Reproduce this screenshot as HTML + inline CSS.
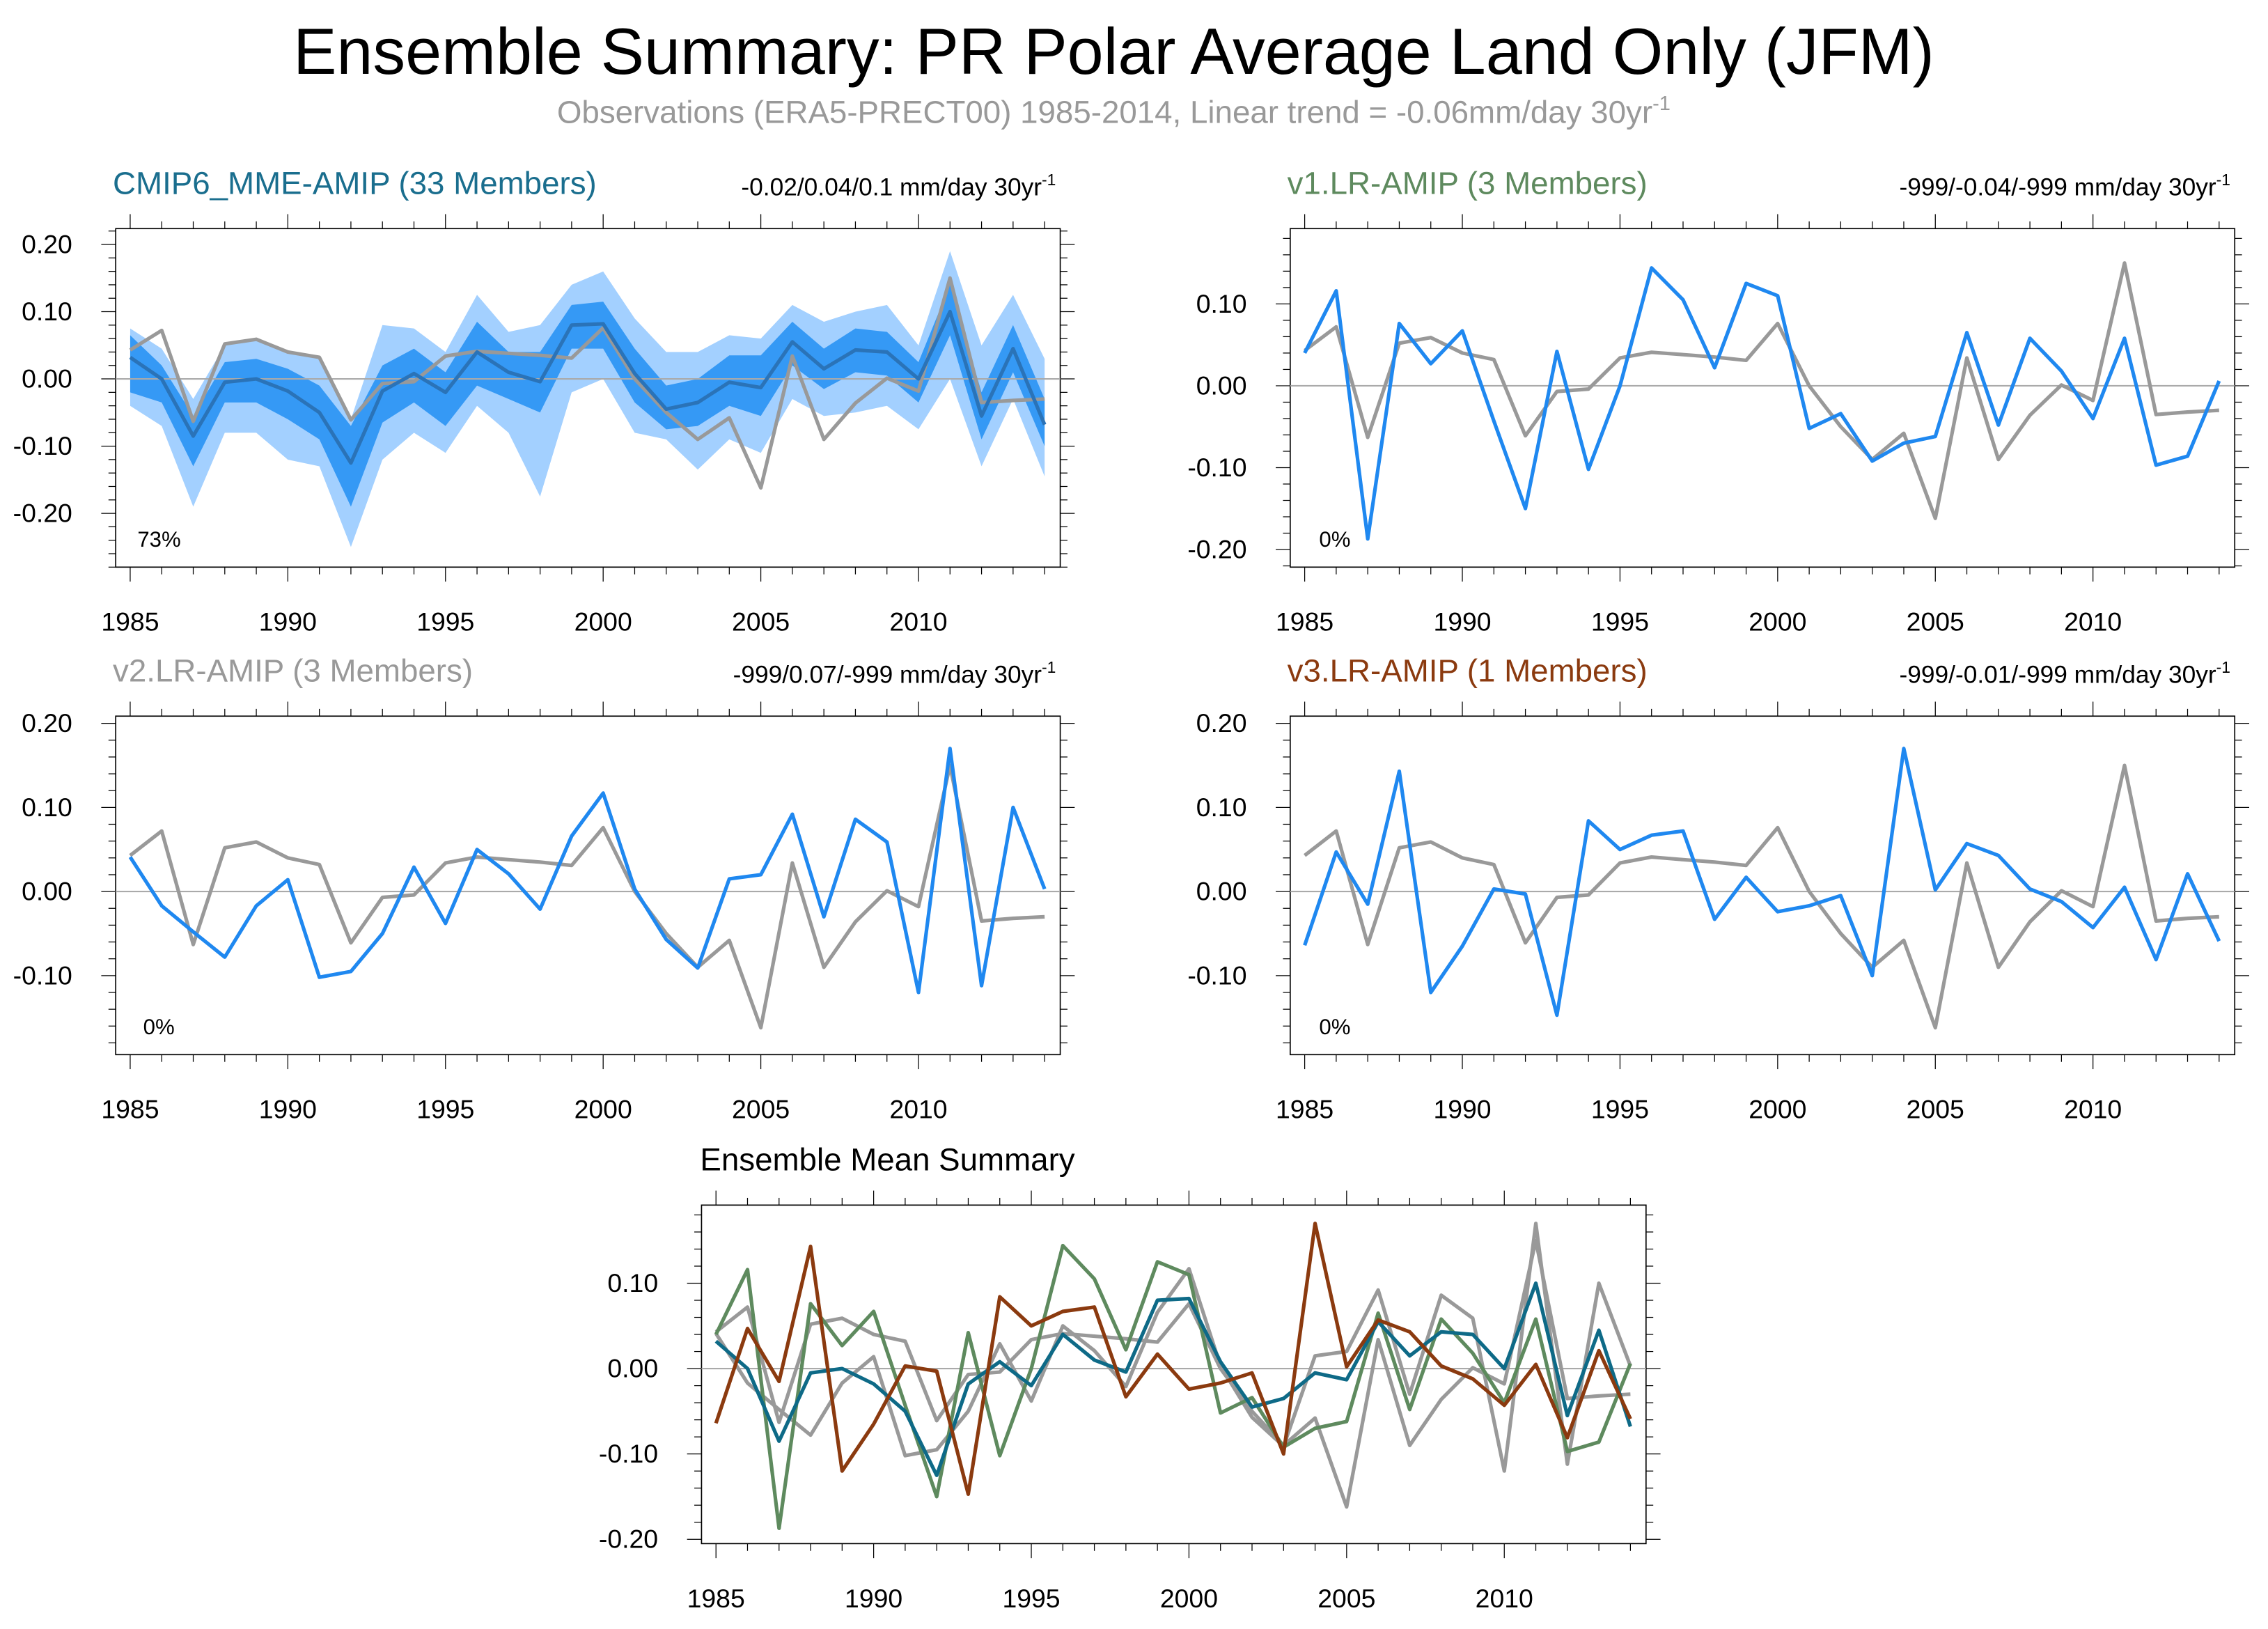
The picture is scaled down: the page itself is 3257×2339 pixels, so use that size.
<!DOCTYPE html>
<html><head><meta charset="utf-8">
<style>
html,body{margin:0;padding:0;background:#fff;}
svg{display:block;font-family:"Liberation Sans",sans-serif;}
</style></head>
<body>
<svg id="chart" width="3257" height="2339" viewBox="0 0 1568 1126" xmlns="http://www.w3.org/2000/svg">
<rect width="1568" height="1126" fill="#fff"/>
<text x="770" y="51" text-anchor="middle" font-size="45">Ensemble Summary: PR Polar Average Land Only (JFM)</text>
<text x="770" y="85" text-anchor="middle" font-size="22" fill="#999">Observations (ERA5-PRECT00) 1985-2014, Linear trend = -0.06mm/day 30yr<tspan dy="-9" font-size="14">-1</tspan></text>
<g id="plots"></g>
</svg>
<script>
const years = [1985,1986,1987,1988,1989,1990,1991,1992,1993,1994,1995,1996,1997,1998,1999,2000,2001,2002,2003,2004,2005,2006,2007,2008,2009,2010,2011,2012,2013,2014];
const obs = [0.043,0.072,-0.063,0.052,0.059,0.040,0.032,-0.061,-0.007,-0.004,0.034,0.041,0.038,0.035,0.031,0.076,0.0,-0.05,-0.09,-0.058,-0.162,0.034,-0.09,-0.036,0.001,-0.018,0.15,-0.035,-0.032,-0.03];
const mmeMean = [0.032,0.0,-0.085,-0.005,0.0,-0.018,-0.05,-0.125,-0.018,0.008,-0.02,0.04,0.01,-0.004,0.08,0.082,0.008,-0.045,-0.035,-0.005,-0.013,0.055,0.015,0.043,0.04,0.0,0.1,-0.055,0.045,-0.068];
const mmeDarkHi = [0.065,0.02,-0.055,0.025,0.03,0.015,-0.01,-0.07,0.02,0.045,0.01,0.085,0.04,0.04,0.11,0.115,0.045,-0.01,0.0,0.035,0.035,0.085,0.045,0.075,0.07,0.025,0.14,-0.02,0.08,-0.03];
const mmeDarkLo = [-0.02,-0.035,-0.13,-0.035,-0.035,-0.06,-0.09,-0.19,-0.065,-0.035,-0.07,-0.01,-0.03,-0.05,0.045,0.045,-0.035,-0.075,-0.07,-0.04,-0.055,0.02,-0.015,0.01,0.005,-0.035,0.065,-0.09,0.01,-0.1];
const mmeLightHi = [0.075,0.045,-0.03,0.05,0.06,0.04,0.03,-0.06,0.08,0.075,0.04,0.125,0.07,0.08,0.14,0.16,0.09,0.04,0.04,0.065,0.06,0.11,0.085,0.1,0.11,0.05,0.19,0.05,0.125,0.03];
const mmeLightLo = [-0.04,-0.07,-0.19,-0.08,-0.08,-0.12,-0.13,-0.25,-0.12,-0.08,-0.11,-0.04,-0.08,-0.175,-0.02,0.0,-0.08,-0.09,-0.135,-0.09,-0.11,-0.03,-0.055,-0.05,-0.04,-0.075,0.0,-0.13,-0.03,-0.145];
const v1 = [0.04,0.116,-0.187,0.076,0.027,0.067,-0.043,-0.15,0.042,-0.102,0.0,0.144,0.105,0.022,0.125,0.11,-0.052,-0.034,-0.092,-0.07,-0.062,0.065,-0.048,0.058,0.018,-0.04,0.058,-0.097,-0.086,0.006];
const v2 = [0.041,-0.017,-0.048,-0.078,-0.017,0.014,-0.102,-0.095,-0.05,0.029,-0.038,0.05,0.021,-0.021,0.066,0.117,0.003,-0.057,-0.091,0.015,0.02,0.092,-0.03,0.086,0.059,-0.12,0.17,-0.112,0.1,0.003];
const v3 = [-0.064,0.047,-0.015,0.143,-0.12,-0.065,0.003,-0.003,-0.147,0.084,0.05,0.067,0.072,-0.033,0.017,-0.024,-0.017,-0.005,-0.1,0.17,0.002,0.057,0.043,0.003,-0.012,-0.043,0.005,-0.081,0.021,-0.059];
const xTicks = [1985,1990,1995,2000,2005,2010];
const yTicksA = [0.2,0.1,0,-0.1,-0.2];
const yTicksB = [0.1,0,-0.1,-0.2];
const yTicksC = [0.2,0.1,0,-0.1];

const NS="http://www.w3.org/2000/svg";
const root=document.getElementById('plots');
function mk(tag,attrs,parent){const e=document.createElementNS(NS,tag);for(const k in attrs)e.setAttribute(k,attrs[k]);(parent||root).appendChild(e);return e;}
const BLUE="#1f88f0", OBS="#999999";

function panel(name,x0,y0,w,h,yTop,yBot,yticks){
  const g=mk('g',{});
  
  
  const sx=v=>x0+10+(v-1985)*21.8;
  const sy=v=>y0+(yTop-v)/(yTop-yBot)*h;
  const P={g,sx,sy,x0,y0,w,h};
  mk('rect',{x:x0,y:y0,width:w,height:h,fill:'#fff',stroke:'#000','stroke-width':0.8},g);
  for(let v=Math.ceil(yBot*50)/50; v<=yTop+1e-9; v+=0.02){
    const y=sy(v);const maj=Math.abs(Math.round(v*10)-v*10)<1e-6;
    const L=maj?10:5;
    mk('line',{x1:x0-L,x2:x0,y1:y,y2:y,stroke:'#000','stroke-width':0.6},g);
    mk('line',{x1:x0+w,x2:x0+w+L,y1:y,y2:y,stroke:'#000','stroke-width':0.6},g);
  }
  yticks.forEach(v=>{
    const t=mk('text',{x:x0-30,y:sy(v)+6,'text-anchor':'end','font-size':18},g);
    
    
    t.textContent=v.toFixed(2);
  });
  for(let yr=1985;yr<=2014;yr++){
    const x=sx(yr);const maj=yr%5===0;const L=maj?10:5;
    mk('line',{x1:x,x2:x,y1:y0+h,y2:y0+h+L,stroke:'#000','stroke-width':0.6},g);
    mk('line',{x1:x,x2:x,y1:y0-L,y2:y0,stroke:'#000','stroke-width':0.6},g);
  }
  xTicks.forEach(v=>{
    const t=mk('text',{x:sx(v),y:y0+h+44,'text-anchor':'middle','font-size':18},g);
    
    
    t.textContent=v;
  });
  mk('line',{x1:x0,x2:x0+w,y1:sy(0),y2:sy(0),stroke:'#aaa','stroke-width':1},g);
  return P;
}
function line(P,vals,color,name,wd){
  const d=vals.map((v,i)=>(i?'L':'M')+P.sx(years[i]).toFixed(1)+','+P.sy(v).toFixed(1)).join('');
  const p=mk('path',{d:d,fill:'none',stroke:color,'stroke-width':wd||2.5,'stroke-linejoin':'round'},P.g);
  
  
}
function band(P,hi,lo,color,name){
  let d=hi.map((v,i)=>(i?'L':'M')+P.sx(years[i]).toFixed(1)+','+P.sy(v).toFixed(1)).join('');
  for(let i=lo.length-1;i>=0;i--) d+='L'+P.sx(years[i]).toFixed(1)+','+P.sy(lo[i]).toFixed(1);
  const p=mk('path',{d:d+'Z',fill:color,stroke:'none'},P.g);
  
  
}
function label(P,txt,x,y,size,color,anchor,name,sup){
  const t=mk('text',{x:x,y:y,'font-size':size,fill:color,'text-anchor':anchor||'start'},P.g);
  
  
  t.textContent=txt;
  if(sup){const s=mk('tspan',{dy:-7,'font-size':11},t);s.textContent=sup;}
}

let P=panel('panel-cmip6-mme',80,158,653,234,0.2236,-0.28,yTicksA);
band(P,mmeLightHi,mmeLightLo,'#a3d0ff','band-light-range');
band(P,mmeDarkHi,mmeDarkLo,'#3599f5','band-dark-range');
P.g.appendChild(P.g.querySelector('line[stroke="#aaa"]'));
line(P,obs,OBS,'obs-line');
line(P,mmeMean,'#2a73b8','mme-mean-line');
label(P,'CMIP6_MME-AMIP (33 Members)',78,134,22,'#1a6e8e','start','panel-title');
label(P,'-0.02/0.04/0.1 mm/day 30yr',730,135,17,'#000','end','trend-label','-1');
label(P,'73%',95,378,15,'#000','start','percent-label');

P=panel('panel-v1',892,158,653,234,0.192,-0.2215,yTicksB);
line(P,obs,OBS,'obs-line');
line(P,v1,BLUE,'v1-line');
label(P,'v1.LR-AMIP (3 Members)',890,134,22,'#5e8a5e','start','panel-title');
label(P,'-999/-0.04/-999 mm/day 30yr',1542,135,17,'#000','end','trend-label','-1');
label(P,'0%',912,378,15,'#000','start','percent-label');

P=panel('panel-v2',80,495,653,234,0.2086,-0.194,yTicksC);
line(P,obs,OBS,'obs-line');
line(P,v2,BLUE,'v2-line');
label(P,'v2.LR-AMIP (3 Members)',78,471,22,'#999','start','panel-title');
label(P,'-999/0.07/-999 mm/day 30yr',730,472,17,'#000','end','trend-label','-1');
label(P,'0%',99,715,15,'#000','start','percent-label');

P=panel('panel-v3',892,495,653,234,0.2086,-0.194,yTicksC);
line(P,obs,OBS,'obs-line');
line(P,v3,BLUE,'v3-line');
label(P,'v3.LR-AMIP (1 Members)',890,471,22,'#8b3a0f','start','panel-title');
label(P,'-999/-0.01/-999 mm/day 30yr',1542,472,17,'#000','end','trend-label','-1');
label(P,'0%',912,715,15,'#000','start','percent-label');

P=panel('panel-ensemble-mean',485,833,653,234,0.1915,-0.205,yTicksB);
line(P,obs,OBS,'obs-line');
line(P,v2,'#999','v2-mean-line');
line(P,v1,'#5e8a5e','v1-mean-line');
line(P,mmeMean,'#0e6a87','mme-mean-line');
line(P,v3,'#8b3a0f','v3-mean-line');
label(P,'Ensemble Mean Summary',484,809,22,'#000','start','panel-title');
</script>
</body></html>
